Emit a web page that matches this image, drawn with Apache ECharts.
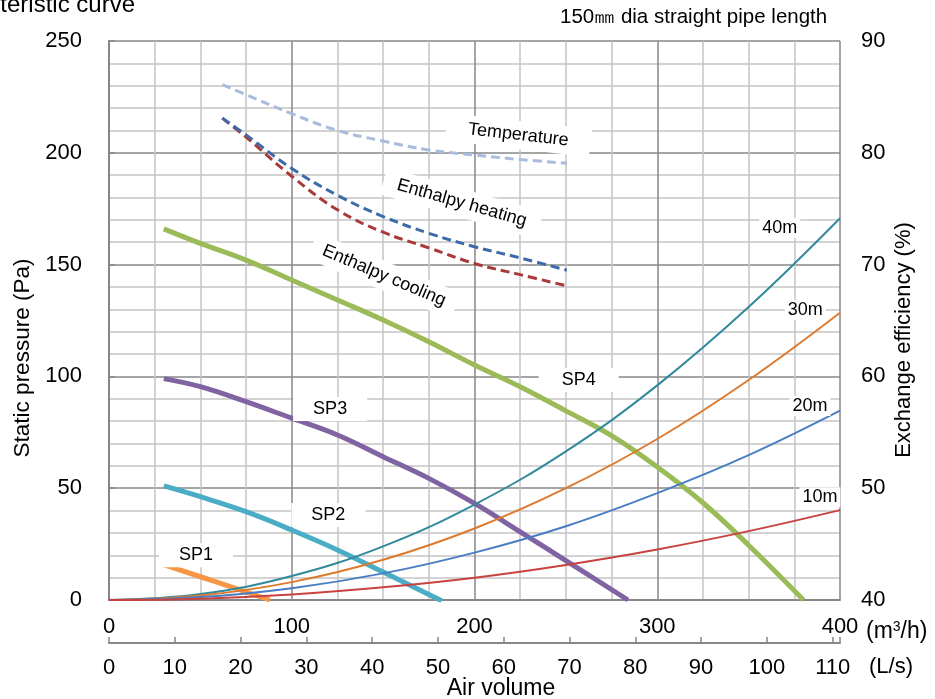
<!DOCTYPE html>
<html><head><meta charset="utf-8">
<script src="https://cdn.jsdelivr.net/npm/echarts@6/dist/echarts.min.js"></script>
<style>html,body{margin:0;padding:0;background:#fff}#c{width:935px;height:699px}</style>
</head><body><div id="c"></div>
<script>
// Air volume (m3/h) vs static pressure (Pa) — fan curves
const sp1 = [[29,16],[59,8],[88,0]];
const sp2 = [[30,51],[50,46.2],[75,39.5],[100,31.3],[125,22.4],[150,12.5],[175,2.5],[182,-0.3]];
const sp3 = [[30,99],[50,95.4],[75,88.7],[100,81.3],[125,73.8],[150,64.1],[175,54.4],[200,43.2],[225,30.5],[250,17.6],[284,0]];
const sp4 = [[30,166],[50,159.5],[75,152],[100,143.1],[125,134.2],[150,125.2],[175,115.5],[200,105.1],[225,95.4],[250,84.6],[275,73.5],[300,59.5],[325,43.5],[350,24.5],[380,0]];
// Pipe resistance curves (150mm dia straight pipe)
const pipe40 = [[0,0],[50,2.7],[100,10.7],[150,24],[200,42.7],[250,66.5],[300,96],[350,131],[400,170.7]];
const pipe30 = [[0,0],[50,2],[100,8],[150,18],[200,32],[250,50],[300,72],[350,98.4],[400,128.5]];
const pipe20 = [[0,0],[50,1.3],[100,5.3],[150,11.9],[200,21.2],[250,33],[300,47.8],[350,64.8],[400,84.7]];
const pipe10 = [[0,0],[50,0.6],[100,2.5],[150,5.7],[200,10],[250,15.7],[300,22.6],[350,30.8],[400,40.2]];
// Exchange efficiency (%)
const effTemp = [[62,86.1],[75,85.2],[100,83.5],[125,82.0],[150,81.05],[175,80.25],[200,79.8],[225,79.4],[250.5,79.06]];
const effHeat = [[62,83.1],[75,81.6],[100,78.6],[125,76.2],[150,74.3],[175,72.8],[200,71.6],[225,70.6],[250.5,69.5]];
const effCool = [[62,83.1],[75,81.4],[100,77.9],[125,74.9],[150,72.9],[175,71.5],[200,70.1],[225,69.1],[250.5,68.1]];
// Curve labels (air volume, static pressure, rotation)
const labelNames = ['SP1','SP2','SP3','SP4','Temperature','Enthalpy heating','Enthalpy cooling','40m','30m','20m','10m'];
const labelX = [47.6,120,121,257,224,193,150.5,367,381,383.6,389];
const labelY = [20,38,85.4,98.4,208,177.5,145,166.4,129.7,86.8,46];
const labelRot = [0,0,0,0,-6.5,-16,-23,0,0,0,0];
const labelPad = [[3,20],[3,20],[3,20],[3,23],[5,22],[5,14],[5,12],[1,3],[1,3],[1,3],[1,3]];

const FONT = "'Liberation Sans', Arial, sans-serif";
const chart = echarts.init(document.getElementById('c'), null, {renderer:'canvas'});
const MAJ = '#878787', MIN = '#c4c4c4';

function line(name, data, color, width, yIdx, dashed, z) {
  return {
    type:'line', name, data, xAxisIndex:0, yAxisIndex:yIdx, showSymbol:false, symbol:'none',
    smooth:0.4, clip:true, z: z||2,
    lineStyle:{color, width, type: dashed ? [9,5] : 'solid', cap:'butt'}
  };
}

const labelSeries = labelNames.map((n,i) => ({
  type:'scatter', xAxisIndex:0, yAxisIndex:0, symbolSize:0, z:10, silent:true,
  itemStyle:{opacity:1},
  data:[[labelX[i], labelY[i]]],
  label:{show:true, position:'inside', formatter:n, rotate:labelRot[i], opacity:1,
    color:'#000', fontFamily:FONT, fontSize:18,
    backgroundColor:'#fff', padding:labelPad[i]}
}));

chart.setOption({
  animation:false,
  grid:{left:109, right:95, top:41, bottom:99, containLabel:false},
  xAxis:[
    {type:'value', min:0, max:400, interval:25, position:'bottom',
     axisLine:{show:true, lineStyle:{color:MAJ, width:2}},
     axisTick:{show:false},
     axisLabel:{margin:16, color:'#000', fontFamily:FONT, fontSize:22,
       formatter:v => (v % 100 === 0 ? String(v) : '')},
     splitLine:{show:true, lineStyle:{color:[MAJ,MIN,MIN,MIN], width:1.5}}},
    {type:'value', min:0, max:400/3.6, interval:10, position:'bottom', offset:43,
     axisLine:{show:true, onZero:false, lineStyle:{color:MAJ, width:2}},
     axisTick:{show:true, inside:true, length:6, lineStyle:{color:MAJ, width:1.5}},
     axisLabel:{margin:14, color:'#000', fontFamily:FONT, fontSize:22,
       formatter:v => (Math.abs(v % 10) < 1e-6 ? String(Math.round(v)) : '')},
     splitLine:{show:false}}
  ],
  yAxis:[
    {type:'value', min:0, max:250, interval:10, position:'left',
     axisLine:{show:true, lineStyle:{color:MAJ, width:2}},
     axisTick:{show:false},
     axisLabel:{margin:27, color:'#000', fontFamily:FONT, fontSize:22,
       formatter:v => (v % 50 === 0 ? String(v) : '')},
     splitLine:{show:true, lineStyle:{color:[MAJ,MIN,MIN,MIN,MIN], width:1.5}}},
    {type:'value', min:40, max:90, interval:10, position:'right',
     axisLine:{show:true, lineStyle:{color:MAJ, width:2}},
     axisTick:{show:true, inside:false, length:6, lineStyle:{color:MAJ, width:1.5}},
     axisLabel:{margin:21, color:'#000', fontFamily:FONT, fontSize:22},
     splitLine:{show:false}}
  ],
  graphic:[
    {type:'text', right:935-135, top:-7, style:{text:'Characteristic curve', fontFamily:FONT, fontSize:24, fill:'#000'}},
    {type:'text', left:560, top:7, style:{text:'150\u339C dia straight pipe length', fontFamily:FONT, fontSize:20.5, fill:'#000'}},
    {type:'text', x:23, y:358, rotation:Math.PI/2, style:{text:'Static pressure (Pa)', fontFamily:FONT, fontSize:22.5, fill:'#000', align:'center', verticalAlign:'middle'}},
    {type:'text', x:904, y:340, rotation:Math.PI/2, style:{text:'Exchange efficiency (%)', fontFamily:FONT, fontSize:22, fill:'#000', align:'center', verticalAlign:'middle'}},
    {type:'text', x:501, y:689, style:{text:'Air volume', fontFamily:FONT, fontSize:23, fill:'#000', align:'center', verticalAlign:'middle'}},
    {type:'text', x:866, y:632, style:{rich:{a:{fontFamily:FONT, fontSize:23, fill:'#000'}, s:{fontFamily:FONT, fontSize:14, fill:'#000', verticalAlign:'top', padding:[0,0,9,0]}}, text:'{a|(m}{s|3}{a|/h)}', verticalAlign:'middle'}},
    {type:'text', x:869, y:667, style:{text:'(L/s)', fontFamily:FONT, fontSize:22, fill:'#000', verticalAlign:'middle'}}
  ],
  series:[
    line('40m', pipe40, '#31899C', 2, 0, false, 3),
    line('30m', pipe30, '#DE7A2E', 2, 0, false, 3),
    line('20m', pipe20, '#4A7EC4', 2, 0, false, 3),
    line('10m', pipe10, '#C8433F', 2, 0, false, 3),
    line('SP1', sp1, '#F79646', 5, 0, false, 2),
    line('SP2', sp2, '#4BACC6', 5, 0, false, 2),
    line('SP3', sp3, '#8064A2', 5, 0, false, 2),
    line('SP4', sp4, '#9BBB59', 5, 0, false, 2),
    line('Temperature', effTemp, '#A9BCDD', 3, 1, true, 4),
    line('Enthalpy cooling', effCool, '#A83A3A', 3, 1, true, 4),
    line('Enthalpy heating', effHeat, '#3D6BAA', 3, 1, true, 4),
    ...labelSeries
  ]
});
</script></body></html>
